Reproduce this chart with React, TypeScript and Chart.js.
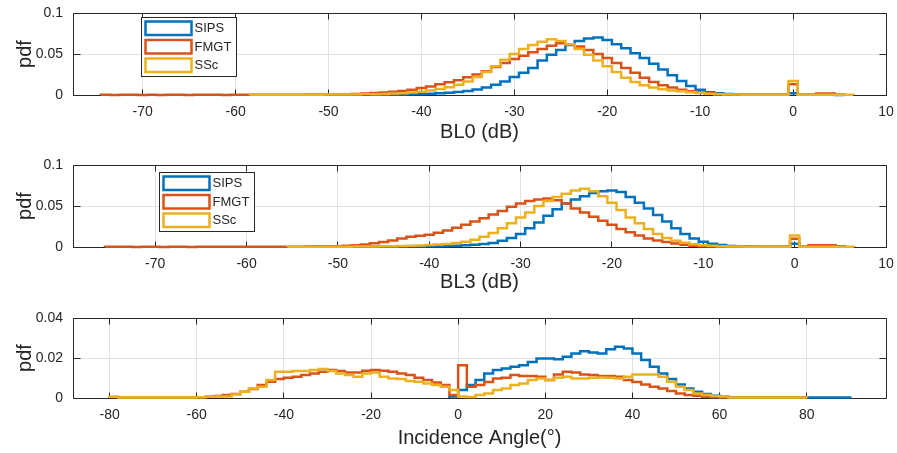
import React, { useEffect, useRef } from 'react';
import { Chart, registerables } from 'chart.js';

Chart.register(...registerables);

const FONT = "'Liberation Sans', Arial, Helvetica, sans-serif";
const TEXT_COLOR = '#262626';
const GRID_COLOR = '#e1e1e1';
const SERIES_NAMES = ['SIPS', 'FMGT', 'SSc'];
const SERIES_COLORS = ['#0072BD', '#D95319', '#EDB120'];

// ---------- Panel 1 : BL0 (dB), 1 dB bins, *_START = left edge of first bin ----------
const BL0_X_TICKS = [-70, -60, -50, -40, -30, -20, -10, 0, 10];
const BL0_Y_TICKS = [0, 0.05, 0.1];
const BL0_BIN = 1;
const BL0_SIPS_START = -45.5;
const BL0_SIPS = [
  0.0002, 0.0003, 0.0004, 0.0006, 0.0008, 0.0011, 0.0015, 0.002, 0.0027, 0.0037,
  0.005, 0.0068, 0.0092, 0.0125, 0.0165, 0.022, 0.027, 0.033, 0.042, 0.049,
  0.055, 0.061, 0.066, 0.069, 0.070, 0.067, 0.062, 0.057, 0.051, 0.045,
  0.038, 0.031, 0.024, 0.017, 0.011, 0.0065, 0.0035, 0.002, 0.0011, 0.0006,
  0.0004, 0.0003, 0.0002, 0.0002, 0.0002, 0.002, 0.0002, 0.0002, 0.0003, 0.0002, 0.0001,
];
const BL0_FMGT_START = -74.5;
const BL0_FMGT = [
  0.0004, 0, 0.0003, 0.0004, 0, 0.0003, 0, 0.0004, 0.0003, 0, 0.0004, 0.0003, 0.0003,
  0, 0.0003, 0.0004, 0.0003, 0.0003, 0.0004, 0.0003, 0.0004, 0.0004, 0.0005, 0.0005, 0.0006, 0.0007,
  0.0009, 0.0013, 0.0018, 0.0024, 0.0031, 0.004, 0.005, 0.0065, 0.0085, 0.0105,
  0.013, 0.0155, 0.018, 0.0215, 0.025, 0.029, 0.034, 0.039, 0.044, 0.048,
  0.052, 0.056, 0.060, 0.063, 0.062, 0.059, 0.055, 0.050, 0.045, 0.039,
  0.033, 0.027, 0.021, 0.016, 0.012, 0.009, 0.0065, 0.0047, 0.0032, 0.0021, 0.0013, 0.0008,
  0.0005, 0.0004, 0.0003, 0.0003, 0.0002, 0.0003, 0.013, 0.0003, 0.0002, 0.0018, 0.0018, 0.0003,
];
const BL0_SSC_START = -58.5;
const BL0_SSC = [
  0.0003, 0.0003, 0.0002, 0.0003, 0.0003, 0.0003, 0.0004, 0.0004, 0.0005, 0.0005, 0.0006, 0.0007, 0.0008,
  0.001, 0.0013, 0.0017, 0.0022, 0.003, 0.004, 0.0055, 0.0072, 0.0095, 0.0125,
  0.0165, 0.022, 0.028, 0.035, 0.043, 0.050, 0.056, 0.061, 0.065, 0.068,
  0.066, 0.062, 0.056, 0.049, 0.042, 0.035, 0.028, 0.021, 0.016, 0.012,
  0.009, 0.007, 0.0055, 0.0045, 0.0035, 0.0025, 0.0015, 0.001, 0.0007,
  0.0005, 0.0004, 0.0004, 0.0003, 0.0003, 0.0003, 0.017, 0.0004, 0.0003, 0.0003, 0.0003, 0.0002, 0.0002,
];

// ---------- Panel 2 : BL3 (dB), 1 dB bins ----------
const BL3_X_TICKS = [-70, -60, -50, -40, -30, -20, -10, 0, 10];
const BL3_Y_TICKS = [0, 0.05, 0.1];
const BL3_BIN = 1;
const BL3_SIPS_START = -53.5;
const BL3_SIPS = [
  0.0003, 0.0005, 0.0003, 0.0002, 0.0003, 0.0003, 0.0003, 0.0003, 0.0004, 0.0004, 0.0005, 0.0005, 0.0006,
  0.0008, 0.001, 0.0012, 0.0015, 0.002, 0.0027, 0.0037, 0.005, 0.0075, 0.011,
  0.016, 0.023, 0.030, 0.038, 0.046, 0.053, 0.058, 0.062, 0.066, 0.068,
  0.069, 0.067, 0.061, 0.054, 0.047, 0.039, 0.031, 0.023, 0.016, 0.0105, 0.0065, 0.004,
  0.0024, 0.0013, 0.0008, 0.0005, 0.0004, 0.0003, 0.0003, 0.0003, 0.004, 0.0003, 0.0003, 0.0008, 0.0015, 0.0008,
];
const BL3_FMGT_START = -75.5;
const BL3_FMGT = [
  0.0004, 0.0003, 0.0003, 0, 0.0003, 0.0004, 0, 0.0003, 0.0003, 0, 0.0003, 0.0003, 0.0003,
  0.0003, 0.0003, 0.0003, 0.0003, 0.0003, 0.0003, 0.0004, 0.0004, 0.0004, 0.0005, 0.0005, 0.0006,
  0.001, 0.0014, 0.002, 0.003, 0.0045, 0.0062, 0.008, 0.0103, 0.0125, 0.0138,
  0.015, 0.0175, 0.020, 0.0235, 0.027, 0.031, 0.035, 0.0395, 0.044, 0.049,
  0.053, 0.056, 0.058, 0.059, 0.057, 0.053, 0.047, 0.042, 0.037, 0.032,
  0.027, 0.022, 0.018, 0.014, 0.0105, 0.008, 0.006, 0.0042, 0.0028, 0.0016,
  0.001, 0.0006, 0.0004, 0.0003, 0.0003, 0.0003, 0.0003, 0.0003, 0.0003, 0.0003, 0.010, 0.0003, 0.002, 0.002, 0.002, 0.0003,
];
const BL3_SSC_START = -55.5;
const BL3_SSC = [
  0.0003, 0.0003, 0.0003, 0.0003, 0.0004, 0.0004, 0.0004, 0.0005, 0.0006, 0.0007, 0.0008, 0.001, 0.0012, 0.0015,
  0.0018, 0.0024, 0.003, 0.0038, 0.005, 0.0065, 0.0088, 0.0125, 0.017, 0.023,
  0.029, 0.036, 0.042, 0.050, 0.056, 0.061, 0.065, 0.069, 0.071, 0.068,
  0.062, 0.054, 0.045, 0.036, 0.029, 0.022, 0.016, 0.011, 0.0075, 0.0052,
  0.0035, 0.0022, 0.0014, 0.0009, 0.0006,
  0.0005, 0.0004, 0.0004, 0.0003, 0.0003, 0.0003, 0.014, 0.0003, 0.0003, 0.0003, 0.0003, 0.0002, 0.0002,
];

// ---------- Panel 3 : Incidence angle, 2 degree bins ----------
const INC_X_TICKS = [-80, -60, -40, -20, 0, 20, 40, 60, 80];
const INC_Y_TICKS = [0, 0.02, 0.04];
const INC_BIN = 2;
const INC_SIPS_START = -2;
const INC_SIPS = [
  0.0008, 0.004, 0.0065, 0.009, 0.0123, 0.014, 0.0148, 0.0156, 0.0164, 0.018,
  0.0198, 0.0198, 0.0194, 0.0206, 0.0223, 0.0234, 0.0227, 0.0223, 0.0244, 0.0256,
  0.0248, 0.0223, 0.019, 0.0156, 0.0123, 0.0095, 0.0068, 0.0048, 0.0031, 0.002,
  0.0011, 0.0008, 0.0003, 0.0003, 0.0003, 0.0003, 0.0003, 0.0003, 0.0003, 0.0003,
  0.0003, 0.0003, 0.0003, 0.0003, 0.0003, 0.0003,
];
const INC_FMGT_START = -80;
const INC_FMGT = [
  0.0005, 0.0002, 0.0002, 0.0002, 0.0002, 0.0002, 0.0002, 0.0002, 0.0002, 0.0003,
  0.0004, 0.0006, 0.001, 0.0015, 0.002, 0.0031, 0.0045, 0.0065, 0.0081, 0.0095,
  0.0101, 0.0106, 0.0115, 0.0123, 0.0131, 0.014, 0.0135, 0.0128, 0.0128, 0.0136,
  0.014, 0.0136, 0.0131, 0.0123, 0.0115, 0.0101, 0.009, 0.0078, 0.0065, 0.0015,
  0.0164, 0.0056, 0.0065, 0.008, 0.0098, 0.0101, 0.0115, 0.011, 0.011, 0.0106,
  0.009, 0.0118, 0.0131, 0.0128, 0.0118, 0.0115, 0.011, 0.011, 0.0106, 0.009,
  0.008, 0.0068, 0.0056, 0.0048, 0.0035, 0.0023, 0.0015, 0.0011, 0.0006, 0.0004,
  0.0002, 0.0002, 0.0002, 0.0002, 0.0002, 0.0002, 0.0002, 0.0002, 0.0002, 0.0002,
];
const INC_SSC_START = -80;
const INC_SSC = [
  0.0006, 0.0003, 0.0003, 0.0003, 0.0003, 0.0003, 0.0003, 0.0003, 0.0003, 0.0003,
  0.0004, 0.0006, 0.0007, 0.0008, 0.0018, 0.0031, 0.0048, 0.0056, 0.009, 0.0131,
  0.0131, 0.0135, 0.0135, 0.014, 0.0145, 0.0135, 0.0123, 0.0115, 0.0106, 0.0123,
  0.0128, 0.0106, 0.0098, 0.0095, 0.0085, 0.0081, 0.0073, 0.0065, 0.0056, 0.004,
  0.0007, 0.0005, 0.0015, 0.0023, 0.004, 0.0048, 0.0065, 0.0073, 0.009, 0.0098,
  0.009, 0.0101, 0.0106, 0.0098, 0.0098, 0.0101, 0.0103, 0.0101, 0.0098, 0.0106,
  0.0118, 0.0118, 0.0118, 0.0106, 0.0081, 0.0056, 0.004, 0.0023, 0.0015, 0.001,
  0.0007, 0.0003, 0.0003, 0.0003, 0.0003, 0.0003, 0.0003, 0.0003, 0.0003, 0.0003,
];

type Series = { start: number; bin: number; values: number[] };
type PanelSpec = {
  key: string;
  height: number;
  padTop: number;
  xAxisHeight: number;
  titlePadBottom: number;
  xMin: number;
  xMax: number;
  xTicks: number[];
  yMax: number;
  yTicks: number[];
  title: string;
  series: Series[];
  legend: { x: number; y: number };
};

const PANELS: PanelSpec[] = [
  {
    key: 'bl0', height: 150, padTop: 13, xAxisHeight: 55, titlePadBottom: 6,
    xMin: -77.5, xMax: 10, xTicks: BL0_X_TICKS, yMax: 0.1, yTicks: BL0_Y_TICKS, title: 'BL0 (dB)',
    series: [
      { start: BL0_SIPS_START, bin: BL0_BIN, values: BL0_SIPS },
      { start: BL0_FMGT_START, bin: BL0_BIN, values: BL0_FMGT },
      { start: BL0_SSC_START, bin: BL0_BIN, values: BL0_SSC },
    ],
    legend: { x: 141, y: 17 },
  },
  {
    key: 'bl3', height: 150, padTop: 15, xAxisHeight: 53, titlePadBottom: 6,
    xMin: -79, xMax: 10, xTicks: BL3_X_TICKS, yMax: 0.1, yTicks: BL3_Y_TICKS, title: 'BL3 (dB)',
    series: [
      { start: BL3_SIPS_START, bin: BL3_BIN, values: BL3_SIPS },
      { start: BL3_FMGT_START, bin: BL3_BIN, values: BL3_FMGT },
      { start: BL3_SSC_START, bin: BL3_BIN, values: BL3_SSC },
    ],
    legend: { x: 159, y: 22 },
  },
  {
    key: 'inc', height: 153, padTop: 18, xAxisHeight: 55, titlePadBottom: 3,
    xMin: -88.4, xMax: 98.2, xTicks: INC_X_TICKS, yMax: 0.04, yTicks: INC_Y_TICKS, title: 'Incidence Angle(°)',
    series: [
      { start: INC_SIPS_START, bin: INC_BIN, values: INC_SIPS },
      { start: INC_FMGT_START, bin: INC_BIN, values: INC_FMGT },
      { start: INC_SSC_START, bin: INC_BIN, values: INC_SSC },
    ],
    legend: { x: 777, y: 332 },
  },
];

function stairs(s: Series) {
  const pts: { x: number; y: number }[] = [{ x: s.start, y: 0 }];
  s.values.forEach((v, i) => pts.push({ x: s.start + i * s.bin, y: v }));
  pts.push({ x: s.start + s.values.length * s.bin, y: 0 });
  return pts;
}

const align = (p: number) => Math.round(p - 0.5) + 0.5;

const framePlugin = {
  id: 'matlabFrame',
  beforeDatasetsDraw(chart: any) {
    const { ctx, chartArea, scales } = chart;
    const L = align(chartArea.left);
    const R = align(chartArea.right);
    const T = align(chartArea.top);
    const B = align(chartArea.bottom);
    ctx.save();
    ctx.strokeStyle = TEXT_COLOR;
    ctx.lineWidth = 1;
    ctx.beginPath();
    ctx.rect(L, T, R - L, B - T);
    scales.x.ticks.forEach((t: any) => {
      const px = align(scales.x.getPixelForValue(t.value));
      ctx.moveTo(px, B);
      ctx.lineTo(px, B - 6);
      ctx.moveTo(px, T);
      ctx.lineTo(px, T + 6);
    });
    scales.y.ticks.forEach((t: any) => {
      const py = align(scales.y.getPixelForValue(t.value));
      ctx.moveTo(L, py);
      ctx.lineTo(L + 7, py);
      ctx.moveTo(R, py);
      ctx.lineTo(R - 7, py);
    });
    ctx.stroke();
    ctx.restore();
  },
};

function legendPlugin(pos: { x: number; y: number }) {
  return {
    id: 'boxLegend',
    afterDatasetsDraw(chart: any) {
      const { ctx } = chart;
      const bx = pos.x + 0.5;
      const by = pos.y + 0.5;
      const w = 95;
      const h = 59;
      ctx.save();
      ctx.fillStyle = '#ffffff';
      ctx.fillRect(bx, by, w, h);
      ctx.strokeStyle = TEXT_COLOR;
      ctx.lineWidth = 1;
      ctx.strokeRect(bx, by, w, h);
      ctx.font = `13px ${FONT}`;
      ctx.textBaseline = 'middle';
      ctx.textAlign = 'left';
      SERIES_NAMES.forEach((name, i) => {
        const ry = by + 4 + i * 18.5;
        ctx.strokeStyle = SERIES_COLORS[i];
        ctx.lineWidth = 2.5;
        ctx.strokeRect(bx + 4, ry, 46, 13.5);
        ctx.fillStyle = TEXT_COLOR;
        ctx.fillText(name, bx + 53, ry + 7);
      });
      ctx.restore();
    },
  };
}

function buildConfig(p: PanelSpec): any {
  return {
    type: 'line',
    data: {
      datasets: p.series.map((s, i) => ({
        label: SERIES_NAMES[i],
        data: stairs(s),
        borderColor: SERIES_COLORS[i],
        backgroundColor: SERIES_COLORS[i],
        borderWidth: 2.5,
        pointRadius: 0,
        stepped: true,
        fill: false,
        clip: false,
        order: 2 - i,
      })),
    },
    options: {
      responsive: false,
      animation: false,
      devicePixelRatio: 1,
      events: [],
      layout: { padding: { top: p.padTop, right: 11, left: 0, bottom: 0 } },
      plugins: { legend: { display: false }, tooltip: { enabled: false } },
      scales: {
        x: {
          type: 'linear',
          position: 'bottom',
          min: p.xMin,
          max: p.xMax,
          afterBuildTicks: (axis: any) => {
            axis.ticks = p.xTicks.map((v) => ({ value: v }));
          },
          afterFit: (axis: any) => {
            axis.height = p.xAxisHeight;
            axis.paddingLeft = 0;
            axis.paddingRight = 0;
          },
          grid: { color: GRID_COLOR, lineWidth: 1, drawTicks: false },
          border: { display: false },
          ticks: {
            padding: 9,
            autoSkip: false,
            maxRotation: 0,
            color: TEXT_COLOR,
            font: { family: FONT, size: 14 },
            callback: (v: number) => String(v),
          },
          title: {
            display: true,
            text: p.title,
            color: TEXT_COLOR,
            font: { family: FONT, size: 20 },
            padding: { top: 0, bottom: p.titlePadBottom },
          },
        },
        y: {
          type: 'linear',
          min: 0,
          max: p.yMax,
          afterBuildTicks: (axis: any) => {
            axis.ticks = p.yTicks.map((v) => ({ value: v }));
          },
          afterFit: (axis: any) => {
            axis.width = 73;
            axis.paddingTop = 0;
            axis.paddingBottom = 0;
          },
          grid: { color: GRID_COLOR, lineWidth: 1, drawTicks: false },
          border: { display: false },
          ticks: {
            padding: 10,
            color: TEXT_COLOR,
            font: { family: FONT, size: 14 },
            callback: (v: number) => String(v),
          },
          title: {
            display: true,
            text: 'pdf',
            color: TEXT_COLOR,
            font: { family: FONT, size: 20 },
            padding: { top: 13, bottom: 0 },
          },
        },
      },
    },
    plugins: [framePlugin, legendPlugin(p.legend)],
  };
}

function Panel({ spec }: { spec: PanelSpec }) {
  const ref = useRef<HTMLCanvasElement | null>(null);
  useEffect(() => {
    if (!ref.current) return;
    const chart = new Chart(ref.current, buildConfig(spec));
    return () => chart.destroy();
  }, [spec]);
  return (
    <canvas
      ref={ref}
      width={897}
      height={spec.height}
      style={{ display: 'block', width: 897, height: spec.height }}
    />
  );
}

export default function App() {
  return (
    <div style={{ position: 'absolute', left: 0, top: 0, width: 897, height: 453, background: '#ffffff' }}>
      {PANELS.map((p) => (
        <Panel key={p.key} spec={p} />
      ))}
    </div>
  );
}
